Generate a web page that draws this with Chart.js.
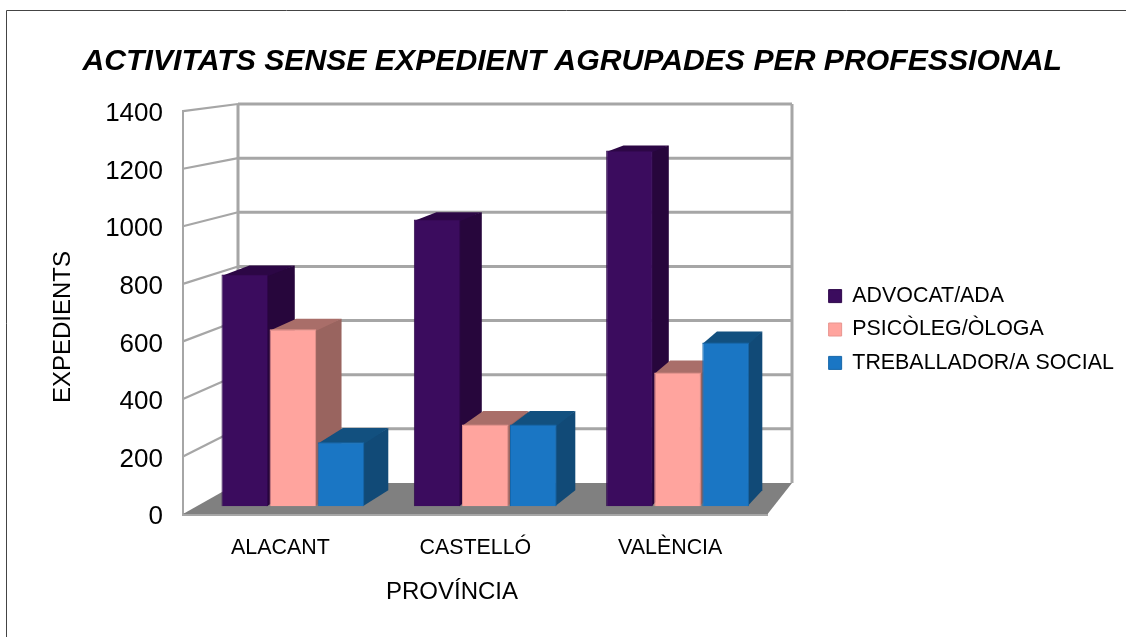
<!DOCTYPE html>
<html><head><meta charset="utf-8">
<style>html,body{margin:0;padding:0;background:#fff}canvas{display:block}</style>
<script src="https://cdn.jsdelivr.net/npm/chart.js@4/dist/chart.umd.min.js"></script>
</head><body>
<div style="width:1126px;height:637px"><canvas id="c" width="1126" height="637"></canvas></div>
<script>
const categories = ['ALACANT', 'CASTELLÓ', 'VALÈNCIA'];
const advocat = [818, 1012, 1255];
const psicoleg = [624, 288, 472];
const treballador = [226, 288, 578];
const seriesNames = ['ADVOCAT/ADA', 'PSICÒLEG/ÒLOGA', 'TREBALLADOR/A SOCIAL'];
const yTicks = [0, 200, 400, 600, 800, 1000, 1200, 1400];
const FONT = '"Liberation Sans", Arial, sans-serif';

// perspective of the 3D box, as offsets from front plane to back wall
const BACK = {left: 238, right: 792, top: 104, bottom: 483};
const BAR_FRONT = 0.25, BAR_BACK = 0.77;
const SIDE = ['#27063c', '#99645f', '#114a77'];
const TOP = ['#2c0745', '#a96e69', '#12507f'];

function project(ca, x, y, t) {
  const u = (x - ca.left) / (ca.right - ca.left);
  const v = (y - ca.top) / (ca.bottom - ca.top);
  const xb = BACK.left + u * (BACK.right - BACK.left);
  const yb = BACK.top + v * (BACK.bottom - BACK.top);
  return [x + (xb - x) * t, y + (yb - y) * t];
}
function poly(ctx, pts, fill) {
  ctx.beginPath();
  pts.forEach((p, i) => i ? ctx.lineTo(p[0], p[1]) : ctx.moveTo(p[0], p[1]));
  ctx.closePath();
  ctx.fillStyle = fill;
  ctx.fill();
}
function seg(ctx, a, b, color, w) {
  ctx.beginPath(); ctx.moveTo(a[0], a[1]); ctx.lineTo(b[0], b[1]);
  ctx.strokeStyle = color; ctx.lineWidth = w; ctx.stroke();
}

const box3d = {
  id: 'box3d',
  afterLayout(chart) {
    const l = chart.legend;
    l.left += 49; l.right = chart.width;
    l.top += 11; l.bottom += 11;
    const t = chart.titleBlock;
    t.left += 60.5; t.right += 60.5;
  },
  beforeDraw(chart) {
    const ctx = chart.ctx;
    ctx.save();
    ctx.strokeStyle = '#444'; ctx.lineWidth = 1;
    ctx.beginPath(); ctx.moveTo(6.5, 637); ctx.lineTo(6.5, 10.5); ctx.lineTo(1126, 10.5); ctx.stroke();
    ctx.restore();
  },
  beforeDatasetsDraw(chart) {
    const ctx = chart.ctx, ca = chart.chartArea, ys = chart.scales.y;
    const P = (x, y, t) => project(ca, x, y, t);
    ctx.save();
    // floor
    poly(ctx, [P(ca.left, ca.bottom, 0), P(ca.right, ca.bottom, 0), P(ca.right, ca.bottom, 1), P(ca.left, ca.bottom, 1)], '#808080');
    // walls
    yTicks.forEach(v => {
      const y = ys.getPixelForValue(v);
      if (v > 0) {
        seg(ctx, P(ca.left, y, 0), P(ca.left, y, 1), '#a6a6a6', 2.2);
        seg(ctx, P(ca.left, y, 1), P(ca.right, y, 1), '#a6a6a6', 3);
      }
    });
    seg(ctx, P(ca.left, ca.top, 1), P(ca.left, ca.bottom, 1), '#a6a6a6', 3);
    seg(ctx, P(ca.right, ca.top, 1), P(ca.right, ca.bottom, 1), '#a6a6a6', 3);
    ctx.restore();

    // datasets left to right, so that each bar covers the depth faces of the one before it
    const a = P(ca.left, ca.top, BAR_FRONT), b = P(ca.right, ca.bottom, BAR_FRONT);
    const sx = (b[0] - a[0]) / ca.width, sy = (b[1] - a[1]) / ca.height;
    chart.getSortedVisibleDatasetMetas().forEach(meta => {
      const k = meta.index;
      meta.data.forEach(bar => {
        const w = bar.width / 2, x0 = bar.x - w, x1 = bar.x + w, yt = bar.y, yb = bar.base;
        // depth faces run slightly under the front face, so no seam shows
        const st = P(x1, yt, BAR_FRONT), sb = P(x1, yb, BAR_FRONT);
        poly(ctx, [[st[0] - 1.5, st[1]], P(x1, yt, BAR_BACK), P(x1, yb, BAR_BACK), [sb[0] - 1.5, sb[1]]], SIDE[k]);
        const pa = P(x0, yt, BAR_FRONT), pb = P(x1, yt, BAR_FRONT);
        poly(ctx, [[pa[0], pa[1] + 1.5], [pb[0], pb[1] + 1.5], P(x1, yt, BAR_BACK), P(x0, yt, BAR_BACK)], TOP[k]);
      });
      // front faces: Chart.js's own bar elements, on the plane where the bars stand
      ctx.save();
      ctx.transform(sx, 0, 0, sy, a[0] - ca.left * sx, a[1] - ca.top * sy);
      meta.controller.draw();
      ctx.restore();
    });
    return false;
  },
  afterDraw(chart) {
    const ctx = chart.ctx;
    ctx.save();
    ctx.fillStyle = '#000';
    ctx.font = '24px ' + FONT;
    ctx.textAlign = 'center'; ctx.textBaseline = 'middle';
    ctx.fillText('PROVÍNCIA', 452, 592);
    ctx.translate(63, 327); ctx.rotate(-Math.PI / 2);
    ctx.fillText('EXPEDIENTS', 0, 0);
    ctx.restore();
  }
};

const colors = ['#3b0c5e', '#ffa49e', '#1a76c4'];
const edges = ['#30094c', '#e8958f', '#1767aa'];
const values = [advocat, psicoleg, treballador];

new Chart(document.getElementById('c'), {
  type: 'bar',
  data: {
    labels: categories,
    datasets: seriesNames.map((n, i) => ({
      label: n, data: values[i], backgroundColor: colors[i],
      borderColor: edges[i], borderWidth: 1
    }))
  },
  options: {
    responsive: false, animation: false,
    layout: {padding: {left: 0, top: 0, right: 102.5, bottom: 0}},
    categoryPercentage: 0.75, barPercentage: 0.97,
    scales: {
      x: {
        grid: {display: false, drawTicks: false},
        border: {color: '#a6a6a6', width: 3},
        ticks: {font: {size: 21.4, family: FONT}, color: '#000', padding: 21, maxRotation: 0},
        afterFit(s) { s.height = 637 - 514; }
      },
      y: {
        min: 0, max: 1400,
        grid: {display: false, drawTicks: false},
        border: {color: '#a6a6a6', width: 2},
        ticks: {font: {size: 26, family: FONT}, color: '#000', padding: 20, stepSize: 200, labelOffset: 3,
                callback: v => String(v)},
        afterFit(s) { s.width = 183; }
      }
    },
    plugins: {
      title: {
        display: true,
        text: 'ACTIVITATS SENSE EXPEDIENT AGRUPADES PER PROFESSIONAL',
        color: '#000',
        font: {size: 30.2, family: FONT, weight: 'bold', style: 'italic', lineHeight: 1},
        padding: {top: 47, bottom: 34}
      },
      legend: {
        position: 'right',
        labels: {boxWidth: 13, boxHeight: 13, padding: 12, color: '#000', font: {size: 21.4, family: FONT}}
      },
      tooltip: {enabled: false}
    }
  },
  plugins: [box3d]
});
</script>
</body></html>
